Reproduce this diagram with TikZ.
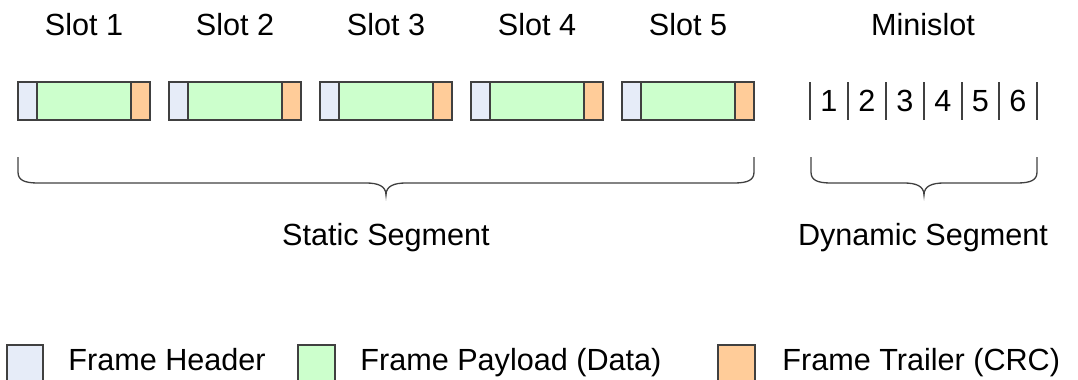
\documentclass[tikz,border=0pt]{standalone}
\usepackage{fontspec}
\setmainfont{Liberation Sans}
\definecolor{hdrfill}{HTML}{E6ECF8}
\definecolor{payfill}{HTML}{CCFFCC}
\definecolor{crcfill}{HTML}{FFCC99}
\begin{document}
\begin{tikzpicture}[x=0.5pt,y=-0.5pt,
  every node/.style={font=\fontsize{15.3}{18}\selectfont,inner sep=0pt,anchor=base},
  part/.style={draw=black!75,line width=0.65pt}]
\useasboundingbox (0,0) rectangle (1078,380);
% slots of the static segment
\filldraw[part,fill=hdrfill] (18,82) rectangle (37,120); \filldraw[part,fill=payfill] (37,82) rectangle (131,120); \filldraw[part,fill=crcfill] (131,82) rectangle (150,120);
\filldraw[part,fill=hdrfill] (169,82) rectangle (188,120); \filldraw[part,fill=payfill] (188,82) rectangle (282,120); \filldraw[part,fill=crcfill] (282,82) rectangle (301,120);
\filldraw[part,fill=hdrfill] (320,82) rectangle (339,120); \filldraw[part,fill=payfill] (339,82) rectangle (433,120); \filldraw[part,fill=crcfill] (433,82) rectangle (452,120);
\filldraw[part,fill=hdrfill] (471,82) rectangle (490,120); \filldraw[part,fill=payfill] (490,82) rectangle (584,120); \filldraw[part,fill=crcfill] (584,82) rectangle (603,120);
\filldraw[part,fill=hdrfill] (622,82) rectangle (641,120); \filldraw[part,fill=payfill] (641,82) rectangle (735,120); \filldraw[part,fill=crcfill] (735,82) rectangle (754,120);
\node (slot1) at (84,35) {Slot 1};
\node (slot2) at (235,35) {Slot 2};
\node (slot3) at (386,35) {Slot 3};
\node (slot4) at (537,35) {Slot 4};
\node (slot5) at (688,35) {Slot 5};
% minislots
\node (minislot) at (923,35) {Minislot};
\draw[part] (810,82) -- (810,120) (848,82) -- (848,120) (886,82) -- (886,120) (924,82) -- (924,120) (962,82) -- (962,120) (999,82) -- (999,120) (1037,82) -- (1037,120);
\node (ms1) at (829,112) {1};
\node (ms2) at (867,112) {2};
\node (ms3) at (905,112) {3};
\node (ms4) at (943,112) {4};
\node (ms5) at (980.5,112) {5};
\node (ms6) at (1018,112) {6};
% braces
\draw[part] (18,157) -- (18,172) .. controls (18,180) and (24,183) .. (38,183) -- (366,183) .. controls (378,183) and (386,186) .. (386,195) .. controls (386,186) and (394,183) .. (406,183) -- (734,183) .. controls (748,183) and (754,180) .. (754,172) -- (754,157);
\draw[part] (811,157) -- (811,172) .. controls (811,180) and (817,183) .. (831,183) -- (904,183) .. controls (916,183) and (924,186) .. (924,195) .. controls (924,186) and (932,183) .. (944,183) -- (1017,183) .. controls (1031,183) and (1037,180) .. (1037,172) -- (1037,157);
\node (staticseg) at (386,245) {Static Segment};
\node (dynseg) at (923,245) {Dynamic Segment};
% legend
\filldraw[part,fill=hdrfill] (7,345) rectangle (43,381);
\node[anchor=base west] (hdrkey) at (68,370) {Frame Header};
\filldraw[part,fill=payfill] (298,345) rectangle (335,381);
\node[anchor=base west] (paykey) at (360,370) {Frame Payload (Data)};
\filldraw[part,fill=crcfill] (718,345) rectangle (755,381);
\node[anchor=base west] (crckey) at (782,370) {Frame Trailer (CRC)};
\end{tikzpicture}
\end{document}
